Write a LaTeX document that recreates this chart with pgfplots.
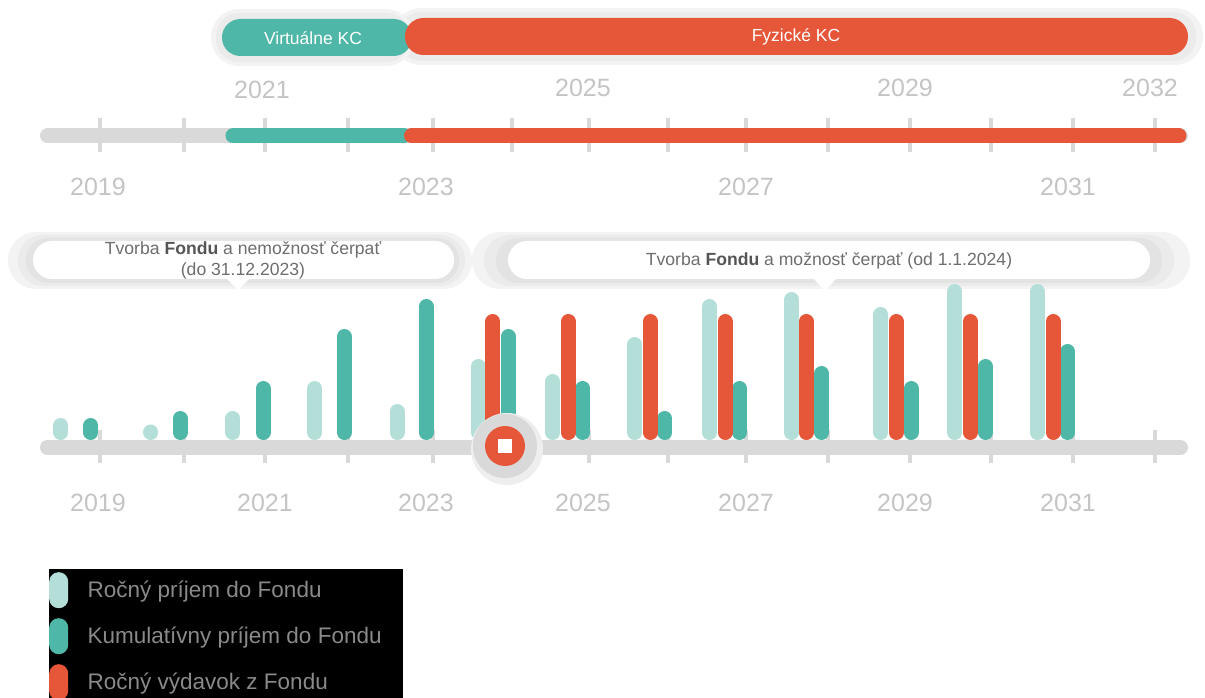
\documentclass[border=0pt]{standalone}
\usepackage{pgfplots}
\pgfplotsset{compat=1.18}
\usepackage{fontspec}
\setmainfont{Liberation Sans}
\definecolor{lteal}{HTML}{B3DFD8}
\definecolor{dteal}{HTML}{4FB7A7}
\definecolor{kred}{HTML}{E65638}
\definecolor{lgrey}{HTML}{D9D9D9}
\definecolor{ygrey}{HTML}{C4C4C4}
\definecolor{txgrey}{HTML}{6E6E6E}
\definecolor{bdgrey}{HTML}{555555}
\definecolor{lggrey}{HTML}{8A8A8A}
\definecolor{hA}{HTML}{F3F3F3}
\definecolor{hB}{HTML}{EBEBEB}
\definecolor{hC}{HTML}{E3E3E3}
\definecolor{hD}{HTML}{EEEEEE}

\begin{document}
\begin{tikzpicture}[x=1pt,y=1pt]
\useasboundingbox (0,0) rectangle (1205,697);
\begin{scope}[shift={(0pt,697pt)}, y=-1pt]
  % ---- top phase pills ----
  \fill[hA, rounded corners=28] (393,8) rectangle (1203,65);
  \fill[hB, rounded corners=23] (398,12) rectangle (1196,61);
  \fill[hA, rounded corners=28] (211,9) rectangle (414,66);
  \fill[hB, rounded corners=23] (216,13) rectangle (410,62);
  \fill[dteal, rounded corners=18.4] (222,19) rectangle (412,56);
  \fill[kred, rounded corners=18.4] (405,18) rectangle (1188,55);
  \node[text=white, font=\fontsize{17.5}{21}\selectfont] at (313,38.5) {Virtuálne KC};
  \node[text=white, font=\fontsize{17.5}{21}\selectfont] at (796,37) {Fyzické KC};
  % ---- top timeline ----
  \draw[lgrey, line width=15, line cap=round] (47.5,136) -- (1180.5,136);
  \foreach \t in {99.5,183.7,265.2,347.5,432.8,512,589.4,668,746,828,909.8,990.8,1072.6,1154.8}
    \draw[lgrey, line width=4] (\t,118) -- (\t,152);
  \begin{scope}[font=\fontsize{25}{30}\selectfont, text=ygrey]
    \node at (262,90) {2021};
    \node at (583,88) {2025};
    \node at (905,88) {2029};
    \node at (1150,88) {2032};
    \node at (98,187) {2019};
    \node at (426,187) {2023};
    \node at (746,187) {2027};
    \node at (1068,187) {2031};
  \end{scope}
  % ---- callouts ----
  \fill[hA, rounded corners=28] (8,232) rectangle (472,289);
  \fill[hB, rounded corners=25] (18,235) rectangle (465,286);
  \fill[hC, rounded corners=22] (26,238) rectangle (459,283);
  \fill[white, rounded corners=19] (33,241) rectangle (454,279);
  \fill[white] (226,278) -- (250,278) -- (238,290) -- cycle;
  \fill[hA, rounded corners=28] (472,232) rectangle (1190,289);
  \fill[hB, rounded corners=25] (484,235) rectangle (1174,286);
  \fill[hC, rounded corners=22] (496,238) rectangle (1162,283);
  \fill[white, rounded corners=19] (508,241) rectangle (1150,279);
  \fill[white] (813,278) -- (837,278) -- (825,291) -- cycle;
  \begin{scope}[font=\fontsize{17.6}{21}\selectfont, text=txgrey]
    \node at (243,250) {Tvorba \textcolor{bdgrey}{\textbf{Fondu}} a nemožnosť čerpať};
    \node at (243,271) {(do 31.12.2023)};
    \node at (829,261) {Tvorba \textcolor{bdgrey}{\textbf{Fondu}} a možnosť čerpať (od 1.1.2024)};
  \end{scope}
  % ---- bottom axis ----
  \draw[lgrey, line width=15, line cap=round] (47.5,447.5) -- (1180.5,447.5);
  \foreach \t in {99.5,183.7,265.2,347.5,432.8,512,589.4,668,746,828,909.8,990.8,1072.6,1154.8}
    \draw[lgrey, line width=4] (\t,430) -- (\t,463);
  \begin{scope}[font=\fontsize{25}{30}\selectfont, text=ygrey]
    \node at (98,503) {2019};
    \node at (265,503) {2021};
    \node at (426,503) {2023};
    \node at (583,503) {2025};
    \node at (746,503) {2027};
    \node at (905,503) {2029};
    \node at (1068,503) {2031};
  \end{scope}
  % ---- legend background ----
  \fill[black] (49,569) rectangle (403,705);
\end{scope}

\begin{axis}[at={(0pt,0pt)}, anchor=south west,
  width=1205pt, height=697pt, scale only axis,
  xmin=2017.78079, xmax=2032.62069, ymin=-264.5, ymax=432.5,
  hide axis, clip=false,
  pill legend/.style={legend image code/.code={
      \fill[##1, draw=none, rounded corners=9.4pt] (0pt,-18pt) rectangle (19pt,18pt);
      \path (29pt,0pt);}},
  legend cell align=left,
  legend style={at={(rel axis cs:0.04066,0.18364)}, anchor=north west,
    draw=none, fill=none, inner xsep=0pt, inner ysep=3pt, row sep=10pt,
    font=\fontsize{22.5}{27}\selectfont, text=lggrey,
    nodes={text=lggrey, inner sep=2pt}},
]
% timeline phases
\addplot[dteal, line width=15pt, line cap=round, forget plot]
  coordinates {(2020.650,296.5) (2022.756,296.5)};
\addplot[kred, line width=15pt, line cap=round, forget plot]
  coordinates {(2022.849,296.5) (2032.300,296.5)};
% Rocny prijem do Fondu
\addplot[ycomb, lteal, line width=15pt, line cap=round, pill legend] coordinates {
 (2018.53,7) (2019.64,0.5) (2020.65,14) (2021.66,44) (2022.67,21) (2023.67,66)
 (2024.59,51) (2025.60,88) (2026.52,126) (2027.53,133) (2028.63,118) (2029.54,141) (2030.56,141)};
% Kumulativny prijem do Fondu
\addplot[ycomb, dteal, line width=15pt, line cap=round, pill legend] coordinates {
 (2018.90,7) (2020.00,14) (2021.02,44) (2022.02,96) (2023.03,126) (2024.04,96)
 (2024.96,44) (2025.97,14) (2026.89,44) (2027.90,59) (2029.00,44) (2029.92,66) (2030.93,81)};
% Rocny vydavok z Fondu
\addplot[ycomb, kred, line width=15pt, line cap=round, pill legend] coordinates {
 (2023.85,111) (2024.78,111) (2025.79,111) (2026.71,111) (2027.71,111)
 (2028.82,111) (2029.73,111) (2030.75,111)};
\legend{Ročný príjem do Fondu, Kumulatívny príjem do Fondu, Ročný výdavok z Fondu}
\end{axis}

\begin{scope}[shift={(0pt,697pt)}, y=-1pt]
  \fill[hD] (507,449) circle (36);
  \fill[lgrey] (505,446) circle (32);
  \fill[kred] (505,446) circle (20);
  \fill[white] (498,439) rectangle (512,453);
\end{scope}
\end{tikzpicture}
\end{document}
